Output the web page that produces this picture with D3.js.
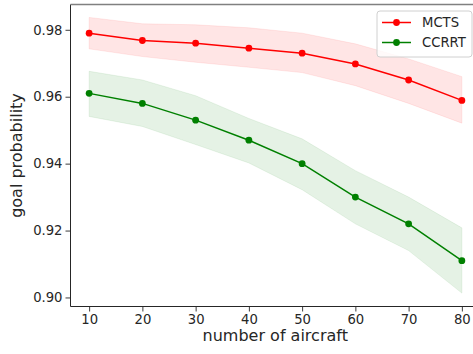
<!DOCTYPE html>
<html>
<head>
  <script src="https://d3js.org/d3.v7.min.js"></script>
  <style>
    body { margin: 0; background: #fff; }
    text { font-family: "DejaVu Sans", sans-serif; fill: #262626; }
  </style>
</head>
<body>
  <svg width="473" height="354"></svg>
  <script>
// aircraft counts on x
const aircraft = [10, 20, 30, 40, 50, 60, 70, 80];

// MCTS mean and band
const mctsMean  = [0.979, 0.9768, 0.976, 0.9745, 0.973, 0.9698, 0.965, 0.9589];
const mctsUpper = [0.9837, 0.9818, 0.9815, 0.9806, 0.9790, 0.9758, 0.9713, 0.9660];
const mctsLower = [0.9743, 0.9720, 0.9703, 0.9688, 0.9672, 0.9633, 0.9580, 0.9521];

// CCRRT mean and band
const ccrrtMean  = [0.961, 0.958, 0.953, 0.947, 0.940, 0.930, 0.922, 0.911];
const ccrrtUpper = [0.9676, 0.9650, 0.9603, 0.9535, 0.9474, 0.9379, 0.9300, 0.9208];
const ccrrtLower = [0.9541, 0.9511, 0.9457, 0.9402, 0.9322, 0.9220, 0.9140, 0.9013];

const xTicks = [10, 20, 30, 40, 50, 60, 70, 80];
const yTicks = [0.90, 0.92, 0.94, 0.96, 0.98];

const series = [
  { name: "MCTS", color: "#ff0000", mean: mctsMean, upper: mctsUpper, lower: mctsLower },
  { name: "CCRRT", color: "#008000", mean: ccrrtMean, upper: ccrrtUpper, lower: ccrrtLower }
];

const plotL = 70.5, plotR = 480.5, plotT = 4.5, plotB = 306.5;

const svg = d3.select("svg");

const x = d3.scaleLinear().domain([6.5, 83.5]).range([plotL, plotR]);
const y = d3.scaleLinear().domain([0.8973, 0.98756]).range([plotB, plotT]);

// bands
const area = d3.area()
  .x((d, i) => x(aircraft[i]))
  .y0(d => y(d[0]))
  .y1(d => y(d[1]));

series.forEach(s => {
  const pts = aircraft.map((a, i) => [s.lower[i], s.upper[i]]);
  svg.append("path")
    .datum(pts)
    .attr("d", area)
    .attr("fill", s.color)
    .attr("fill-opacity", 0.1)
    .attr("stroke", s.color)
    .attr("stroke-opacity", 0.08);
});

// lines and markers
const line = d3.line()
  .x((d, i) => x(aircraft[i]))
  .y(d => y(d));

series.forEach(s => {
  svg.append("path")
    .datum(s.mean)
    .attr("d", line)
    .attr("fill", "none")
    .attr("stroke", s.color)
    .attr("stroke-width", 1.5);
  svg.selectAll(null)
    .data(s.mean)
    .enter().append("circle")
    .attr("cx", (d, i) => x(aircraft[i]))
    .attr("cy", d => y(d))
    .attr("r", 3.4)
    .attr("fill", s.color);
});

// axes
const xAxis = svg.append("g")
  .attr("transform", `translate(0,${plotB})`)
  .call(d3.axisBottom(x).tickValues(xTicks).tickSize(5).tickPadding(3).tickFormat(d3.format("d")));
const yAxis = svg.append("g")
  .attr("transform", `translate(${plotL},0)`)
  .call(d3.axisLeft(y).tickValues(yTicks).tickSize(5).tickPadding(3).tickFormat(d3.format(".2f")));

[xAxis, yAxis].forEach(g => {
  g.select(".domain").remove();
  g.selectAll("line").attr("stroke", "#262626").attr("stroke-width", 0.9);
  g.selectAll("text").attr("font-size", 13.2).attr("fill", "#262626")
    .attr("font-family", "DejaVu Sans, sans-serif");
});

// spines
svg.append("line").attr("x1", plotL).attr("x2", plotL).attr("y1", plotT).attr("y2", plotB)
  .attr("stroke", "#262626").attr("stroke-width", 1);
svg.append("line").attr("x1", plotL).attr("x2", 473).attr("y1", plotB).attr("y2", plotB)
  .attr("stroke", "#262626").attr("stroke-width", 1);
svg.append("line").attr("x1", plotL).attr("x2", 473).attr("y1", plotT).attr("y2", plotT)
  .attr("stroke", "#808080").attr("stroke-width", 1.5);

// axis labels
svg.append("text")
  .attr("x", (plotL + 480) / 2).attr("y", 341)
  .attr("text-anchor", "middle")
  .attr("font-size", 16)
  .text("number of aircraft");

svg.append("text")
  .attr("transform", `translate(22,${(plotT + plotB) / 2}) rotate(-90)`)
  .attr("text-anchor", "middle")
  .attr("font-size", 16)
  .text("goal probability");

// legend
const lg = svg.append("g").attr("transform", "translate(377,11)");
lg.append("rect")
  .attr("width", 95).attr("height", 46).attr("rx", 3)
  .attr("fill", "#fff").attr("fill-opacity", 0.8)
  .attr("stroke", "#d0d0d0").attr("stroke-width", 1);
series.forEach((s, i) => {
  const ly = 11.5 + i * 20;
  lg.append("line").attr("x1", 5).attr("x2", 34).attr("y1", ly).attr("y2", ly)
    .attr("stroke", s.color).attr("stroke-width", 1.5);
  lg.append("circle").attr("cx", 19.5).attr("cy", ly).attr("r", 3.4).attr("fill", s.color);
  lg.append("text").attr("x", 45).attr("y", ly + 4.8).attr("font-size", 13.2).text(s.name);
});
  </script>
</body>
</html>
